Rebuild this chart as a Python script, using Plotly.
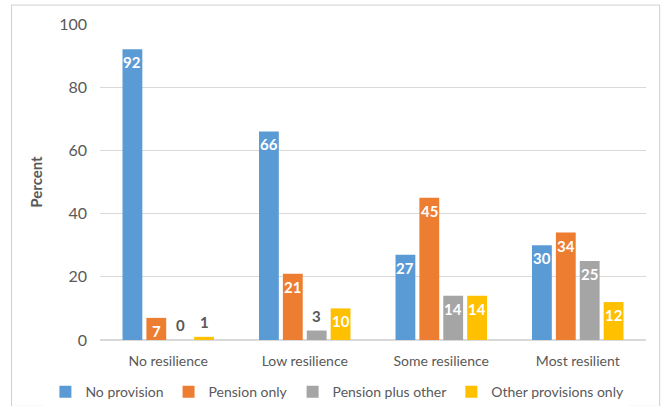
import plotly.graph_objects as go

categories = ["No resilience", "Low resilience", "Some resilience", "Most resilient"]
series_names = ["No provision", "Pension only", "Pension plus other", "Other provisions only"]
no_provision = [92, 66, 27, 30]
pension_only = [7, 21, 45, 34]
pension_plus_other = [0, 3, 14, 25]
other_only = [1, 10, 14, 12]

COLORS = ["#5B9BD5", "#ED7D31", "#A5A5A5", "#FFC000"]
FONT = "Lato, Open Sans, sans-serif"
GREY_TXT = "#595959"
BARGAP = 0.3
N = 4
slot = (1 - BARGAP) / N

fig = go.Figure()
annotations = []
xs = list(range(len(categories)))
for k, (name, vals, col) in enumerate(zip(series_names,
                                          [no_provision, pension_only, pension_plus_other, other_only],
                                          COLORS)):
    fig.add_trace(go.Bar(x=xs, y=vals, name=name, marker=dict(color=col, line=dict(width=0))))
    off = -(1 - BARGAP) / 2 + slot * (k + 0.5)
    for i, v in enumerate(vals):
        inside = v >= 5
        annotations.append(dict(
            x=i + off, y=v, xref="x", yref="y", text=f"<b>{v}</b>", showarrow=False,
            yanchor="top" if inside else "bottom", yshift=-2 if inside else 4,
            font=dict(size=15, color="white" if inside else GREY_TXT, family=FONT)))

fig.update_layout(
    width=663, height=406,
    margin=dict(l=100, r=17, t=24, b=66, autoexpand=False),
    paper_bgcolor="white", plot_bgcolor="white",
    font=dict(family=FONT, color=GREY_TXT),
    barmode="group", bargap=BARGAP, bargroupgap=0.17,
    annotations=annotations,
    legend=dict(orientation="h", x=-0.1, xanchor="left", y=-0.165, yanchor="middle",
                font=dict(size=14, color=GREY_TXT), itemwidth=30,
                traceorder="normal"),
    # light outer frame of the chart area
    shapes=[dict(type="rect", xref="paper", yref="paper", x0=-0.162, x1=1.025,
                 y0=-0.21, y1=1.06, line=dict(color="#CFCFCF", width=1), layer="below")],
)
fig.update_yaxes(range=[0, 100], dtick=20, showgrid=True, gridcolor="#D9D9D9",
                 zeroline=True, zerolinecolor="#D9D9D9", showline=False, automargin=False,
                 tickfont=dict(size=16, color=GREY_TXT), ticks="", ticklabelstandoff=12,
                 title=dict(text="<b>Percent</b>", font=dict(size=15, color=GREY_TXT),
                            standoff=12))
fig.update_xaxes(tickvals=xs, ticktext=categories, range=[-0.5, len(categories) - 0.5],
                 showline=True, linecolor="#D9D9D9", ticks="", showgrid=False, automargin=False,
                 tickfont=dict(size=14, color=GREY_TXT), ticklabelstandoff=8)

fig.write_html("out.html", config={"displayModeBar": False},
               post_script="document.body.style.margin='0';")
